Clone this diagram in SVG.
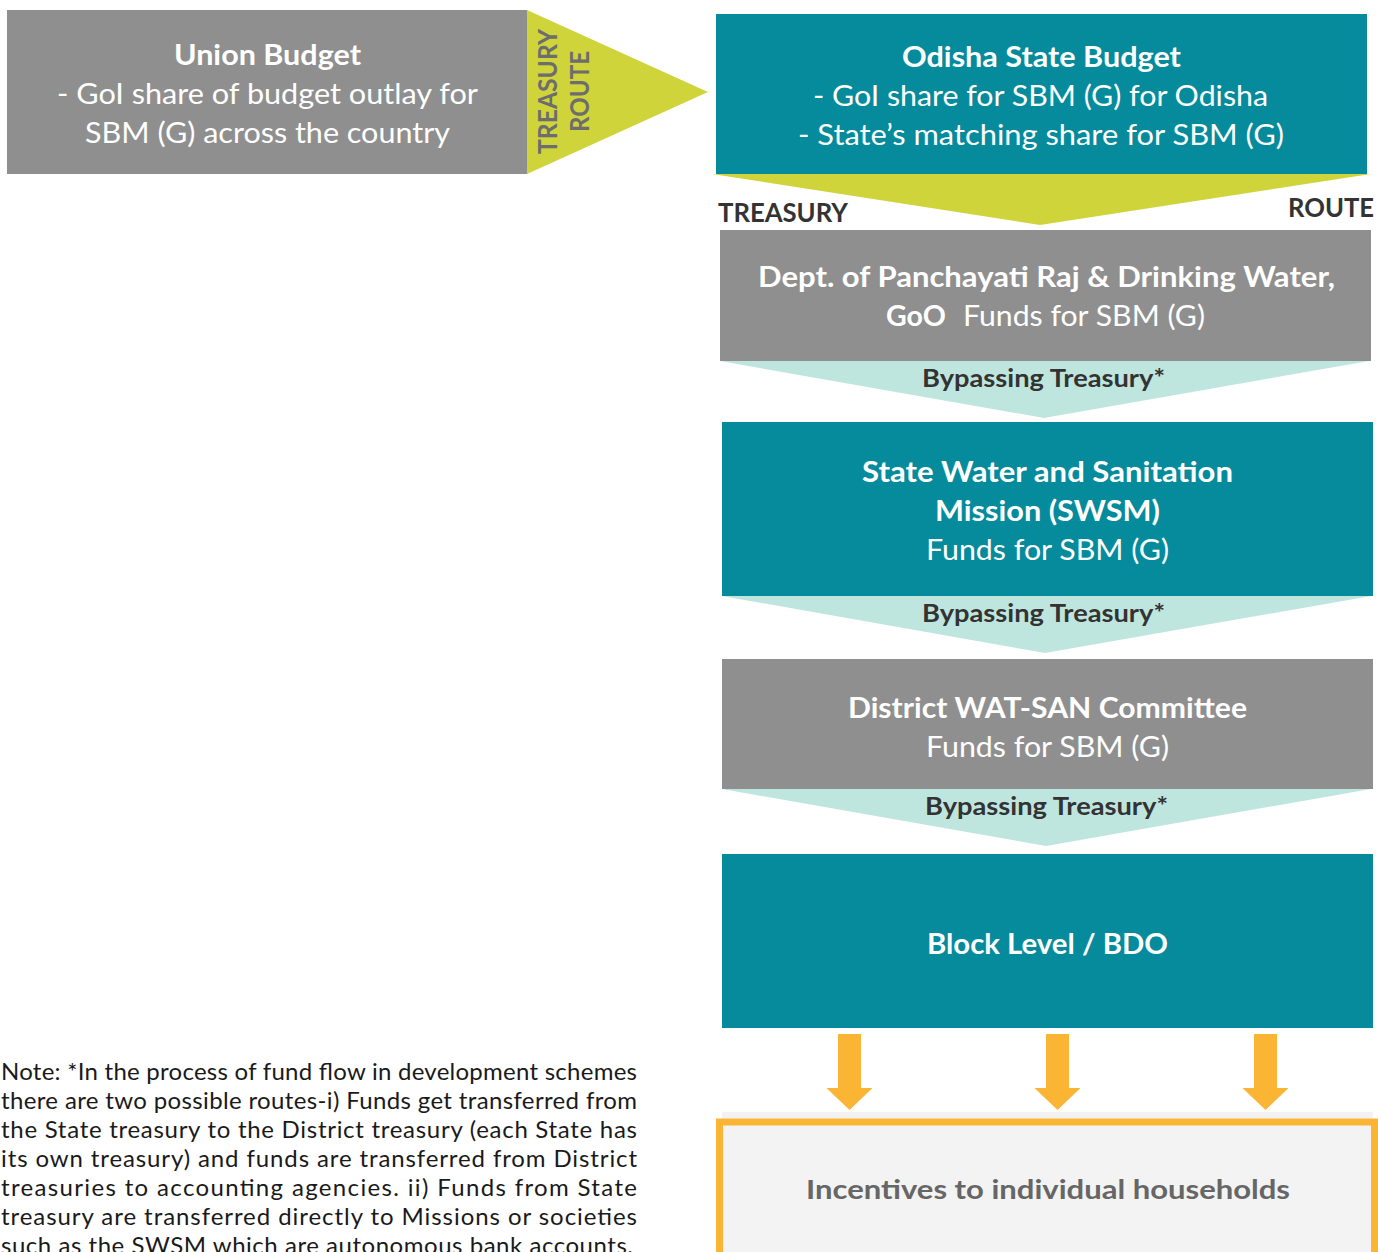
<svg xmlns="http://www.w3.org/2000/svg" width="1378" height="1252" viewBox="0 0 1378 1252">
  <style>
    text { font-family: Lato, "Open Sans", "DejaVu Sans", sans-serif; }
    .gray { fill: #8f8f8f; }
    .teal { fill: #058b9c; }
    .lime { fill: #cfd43b; }
    .pale { fill: #bfe6de; }
    .orange { fill: #fbb534; }
    .hd { font-size: 28px; font-weight: 700; fill: #ffffff; text-anchor: middle; }
    .bd { font-size: 28px; font-weight: 400; fill: #ffffff; text-anchor: middle; }
    .route { font-size: 26px; font-weight: 700; fill: #333333; }
    .vroute { font-size: 27px; font-weight: 700; fill: #6d6d6d; text-anchor: middle; }
    .bypass { font-size: 24px; font-weight: 700; fill: #333333; text-anchor: middle; }
    .note { font-size: 24px; fill: #1a1a1a; }
  </style>
  <defs>
    <!-- downward block arrow used between Block Level and households -->
    <path id="blockArrow" d="M-11.5,0 H11.5 V54 H23 L0,76 L-23,54 H-11.5 Z" fill="#fbb534"/>
  </defs>
  <rect width="1378" height="1252" fill="#ffffff"/>

  <!-- connectors: route chevrons and arrows -->
  <g id="connectors">
    <g id="treasury-route-side">
      <polygon class="lime" points="527,10 708,92 527,174"/>
      <text class="vroute" transform="translate(557,91.5) rotate(-90)" textLength="125" lengthAdjust="spacingAndGlyphs">TREASURY</text>
      <text class="vroute" transform="translate(589,91.5) rotate(-90)" textLength="81" lengthAdjust="spacingAndGlyphs">ROUTE</text>
    </g>
    <g id="treasury-route-down">
      <polygon class="lime" points="712,174 1371,174 1040,225"/>
      <text class="route" x="718" y="222" textLength="130" lengthAdjust="spacingAndGlyphs">TREASURY</text>
      <text class="route" x="1288" y="217" textLength="86" lengthAdjust="spacingAndGlyphs">ROUTE</text>
    </g>
    <g id="bypass-1">
      <polygon class="pale" points="720,361 1369,361 1044,418"/>
      <text class="bypass" x="1043.5" y="387" textLength="243" lengthAdjust="spacingAndGlyphs">Bypassing Treasury*</text>
    </g>
    <g id="bypass-2">
      <polygon class="pale" points="722,596 1371,596 1045,653"/>
      <text class="bypass" x="1043.5" y="622" textLength="243" lengthAdjust="spacingAndGlyphs">Bypassing Treasury*</text>
    </g>
    <g id="bypass-3">
      <polygon class="pale" points="722,789 1371,789 1046,846"/>
      <text class="bypass" x="1046.5" y="815" textLength="243" lengthAdjust="spacingAndGlyphs">Bypassing Treasury*</text>
    </g>
    <g id="household-arrows">
      <use href="#blockArrow" x="849.5" y="1034"/>
      <use href="#blockArrow" x="1057.5" y="1034"/>
      <use href="#blockArrow" x="1265.5" y="1034"/>
    </g>
  </g>

  <g id="union-budget">
    <rect class="gray" x="7" y="10" width="520" height="164"/>
    <text class="hd" x="267.5" y="65" textLength="187" lengthAdjust="spacingAndGlyphs">Union Budget</text>
    <text class="bd" x="267.5" y="104" textLength="421" lengthAdjust="spacingAndGlyphs">- GoI share of budget outlay for</text>
    <text class="bd" x="267.5" y="143" textLength="365" lengthAdjust="spacingAndGlyphs">SBM (G) across the country</text>
  </g>

  <g id="odisha-state-budget">
    <rect class="teal" x="716" y="14" width="651" height="160"/>
    <text class="hd" x="1041.5" y="67" textLength="279" lengthAdjust="spacingAndGlyphs">Odisha State Budget</text>
    <text class="bd" x="1040.5" y="106" textLength="455" lengthAdjust="spacingAndGlyphs">- GoI share for SBM (G) for Odisha</text>
    <text class="bd" x="1041" y="145" textLength="486" lengthAdjust="spacingAndGlyphs">- State’s matching share for SBM (G)</text>
  </g>

  <g id="dept-panchayati-raj">
    <rect class="gray" x="720" y="230" width="651" height="131"/>
    <text class="hd" x="1046.5" y="287" textLength="577" lengthAdjust="spacingAndGlyphs">Dept. of Panchayati Raj &amp; Drinking Water,</text>
    <text class="hd" x="916" y="326" textLength="60" lengthAdjust="spacingAndGlyphs">GoO</text>
    <text class="bd" x="1084" y="326" textLength="242" lengthAdjust="spacingAndGlyphs">Funds for SBM (G)</text>
  </g>

  <g id="swsm">
    <rect class="teal" x="722" y="422" width="651" height="174"/>
    <text class="hd" x="1047.5" y="482" textLength="371" lengthAdjust="spacingAndGlyphs">State Water and Sanitation</text>
    <text class="hd" x="1047.5" y="521" textLength="225" lengthAdjust="spacingAndGlyphs">Mission (SWSM)</text>
    <text class="bd" x="1047.5" y="560" textLength="243" lengthAdjust="spacingAndGlyphs">Funds for SBM (G)</text>
  </g>

  <g id="district-watsan">
    <rect class="gray" x="722" y="659" width="651" height="130"/>
    <text class="hd" x="1047.5" y="718" textLength="399" lengthAdjust="spacingAndGlyphs">District WAT-SAN Committee</text>
    <text class="bd" x="1047.5" y="757" textLength="243" lengthAdjust="spacingAndGlyphs">Funds for SBM (G)</text>
  </g>

  <g id="block-level">
    <rect class="teal" x="722" y="854" width="651" height="174"/>
    <text class="hd" x="1047.5" y="954" textLength="241" lengthAdjust="spacingAndGlyphs">Block Level / BDO</text>
  </g>

  <g id="households">
    <rect x="722" y="1112" width="651" height="140" fill="#f2f2f2"/>
    <rect x="719.5" y="1122" width="655" height="140" fill="#f3f3f3" stroke="#fbb534" stroke-width="7"/>
    <text x="1048" y="1199" font-size="27" font-weight="700" fill="#666666" text-anchor="middle" textLength="484" lengthAdjust="spacingAndGlyphs">Incentives to individual households</text>
  </g>

  <g id="note">
    <text class="note" x="1" y="1080" textLength="636" lengthAdjust="spacing">Note: *In the process of fund flow in development schemes</text>
    <text class="note" x="1" y="1109" textLength="636" lengthAdjust="spacing">there are two possible routes-i) Funds get transferred from</text>
    <text class="note" x="1" y="1138" textLength="636" lengthAdjust="spacing">the State treasury to the District treasury (each State has</text>
    <text class="note" x="1" y="1167" textLength="636" lengthAdjust="spacing">its own treasury) and funds are transferred from District</text>
    <text class="note" x="1" y="1196" textLength="636" lengthAdjust="spacing">treasuries to accounting agencies. ii) Funds from State</text>
    <text class="note" x="1" y="1225" textLength="636" lengthAdjust="spacing">treasury are transferred directly to Missions or societies</text>
    <text class="note" x="1" y="1254" textLength="632" lengthAdjust="spacing">such as the SWSM which are autonomous bank accounts.</text>
  </g>
</svg>
